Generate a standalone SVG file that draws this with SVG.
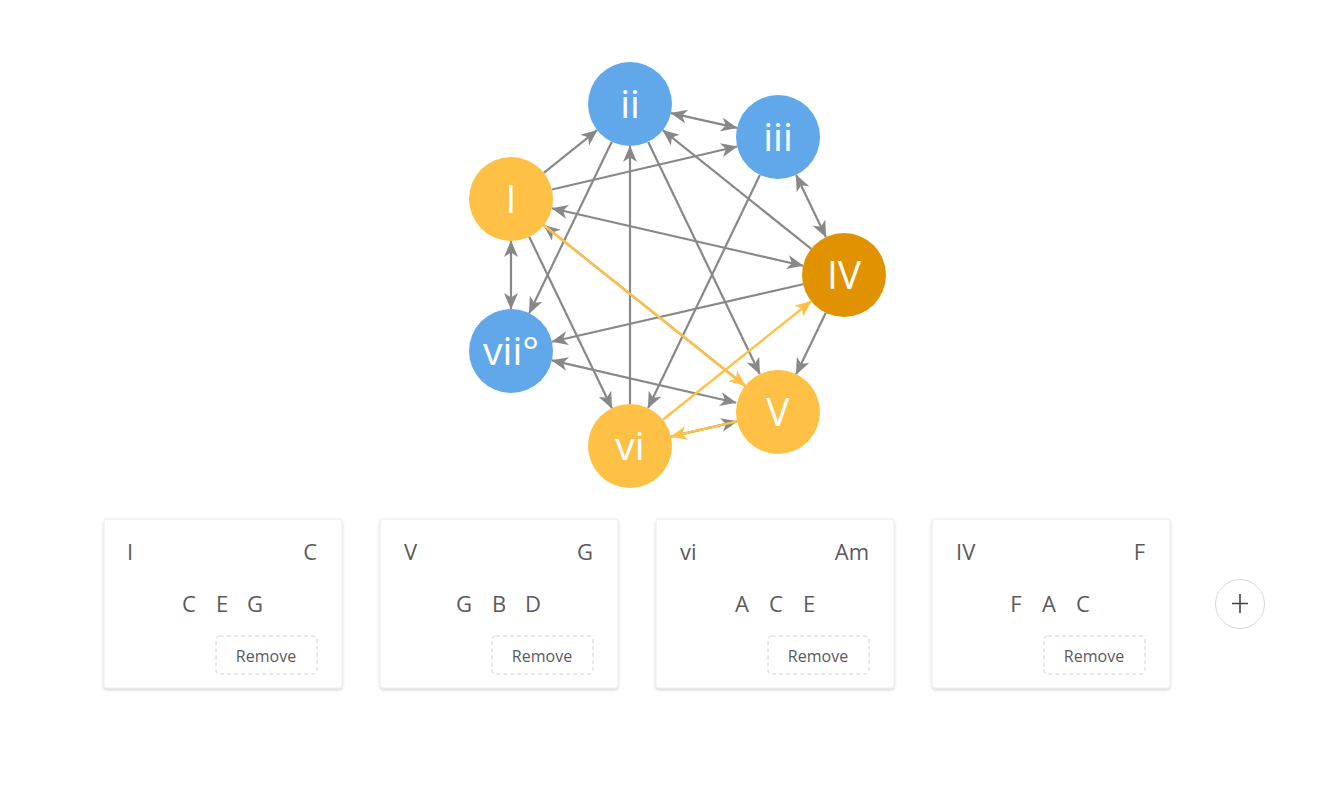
<svg xmlns="http://www.w3.org/2000/svg" width="1339" height="796" viewBox="0 0 1339 796">
<style>
.node text{font-family:"Open Sans","Noto Sans","DejaVu Sans",sans-serif;font-size:39px;fill:#fff;text-anchor:middle}
.blue{fill:#61a8ea}
.yel{fill:#ffc145}
.org{fill:#e09200}
.e{stroke:#888;stroke-width:2.2;fill:none}
.g{marker-end:url(#ag)}
.gg{marker-start:url(#ag);marker-end:url(#ag)}
.y{stroke:#ffc145;stroke-width:2.4;fill:none;marker-end:url(#ay)}
.card rect.bg{fill:#fff;stroke:#ececec;stroke-width:1}
.card text{font-family:"Open Sans","Noto Sans","DejaVu Sans",sans-serif;fill:#5a5a5a}
.t{font-size:22px}
.n{font-size:22px;text-anchor:middle}
.btn{fill:#fff;stroke:#d0d0d0;stroke-dasharray:4 3;stroke-width:1}
.bt{font-size:16px;text-anchor:middle}
</style>
<defs>
<marker id="ag" markerWidth="17" markerHeight="14" refX="16" refY="7" orient="auto-start-reverse" markerUnits="userSpaceOnUse" viewBox="0 0 17 14">
<path d="M16.5,7 L0,0 L4.5,7 L0,14 Z" fill="#888"/>
</marker>
<marker id="ay" markerWidth="17" markerHeight="14" refX="16" refY="7" orient="auto-start-reverse" markerUnits="userSpaceOnUse" viewBox="0 0 17 14">
<path d="M16.5,7 L0,0 L4.5,7 L0,14 Z" fill="#ffc145"/>
</marker>
<filter id="sh" x="-10%" y="-10%" width="120%" height="125%">
<feDropShadow dx="0" dy="1.5" stdDeviation="1.5" flood-color="#000" flood-opacity="0.18"/>
</filter>
</defs>
<rect width="1339" height="796" fill="#fff"/>
<g id="connectors">
<line class="e g" x1="543.8" y1="172.8" x2="597.2" y2="130.2"/>
<line class="e g" x1="551.9" y1="189.5" x2="737.1" y2="146.5"/>
<line class="e gg" x1="671" y1="113.1" x2="737" y2="127.9"/>
<line class="e gg" x1="551.9" y1="208.3" x2="803.1" y2="265.7"/>
<line class="e g" x1="811.2" y1="248.8" x2="662.8" y2="130.2"/>
<line class="e gg" x1="796.1" y1="174.9" x2="825.9" y2="237.1"/>
<line class="e g" x1="648.2" y1="141.9" x2="759.8" y2="374.1"/>
<line class="e g" x1="611.8" y1="141.8" x2="529.2" y2="313.2"/>
<line class="e g" x1="630" y1="404" x2="630" y2="146"/>
<line class="e g" x1="529.2" y1="236.8" x2="611.8" y2="408.2"/>
<line class="e gg" x1="511" y1="241" x2="511" y2="309"/>
<line class="e g" x1="759.9" y1="174.9" x2="648.1" y2="408.1"/>
<line class="e g" x1="803.1" y1="284.3" x2="551.9" y2="341.7"/>
<line class="e gg" x1="551.9" y1="360.4" x2="736.1" y2="402.7"/>
<line class="e g" x1="825.8" y1="312.8" x2="796.2" y2="374.2"/>
<line class="e g" x1="745.2" y1="385.8" x2="543.8" y2="225.2"/>
<line class="e g" x1="670.9" y1="436.6" x2="737.1" y2="421.4"/>
<line class="y" x1="543.8" y1="225.2" x2="745.2" y2="385.8"/>
<line class="y" x1="737.1" y1="421.4" x2="670.9" y2="436.6"/>
<line class="y" x1="662.8" y1="419.8" x2="811.2" y2="301.2"/>
</g>
<g id="node-I" class="node"><circle cx="511" cy="199" r="42" class="yel"/><text x="511" y="213">I</text></g>
<g id="node-ii" class="node"><circle cx="630" cy="104" r="42" class="blue"/><text x="630" y="118">ii</text></g>
<g id="node-iii" class="node"><circle cx="778" cy="137" r="42" class="blue"/><text x="778" y="151">iii</text></g>
<g id="node-IV" class="node"><circle cx="844" cy="275" r="42" class="org"/><text x="844" y="289">IV</text></g>
<g id="node-V" class="node"><circle cx="778" cy="412" r="42" class="yel"/><text x="778" y="426">V</text></g>
<g id="node-vi" class="node"><circle cx="630" cy="446" r="42" class="yel"/><text x="630" y="460">vi</text></g>
<g id="node-vii" class="node"><circle cx="511" cy="351" r="42" class="blue"/><text x="511" y="365">vii°</text></g>

<g id="card-1" class="card">
<rect class="bg" x="104" y="519" width="238" height="169" rx="3" filter="url(#sh)"/>
<text class="t" x="127" y="560">I</text>
<text class="t" x="317" y="560" text-anchor="end">C</text>
<text class="n" x="189" y="612">C</text><text class="n" x="222" y="612">E</text><text class="n" x="255" y="612">G</text>
<rect class="btn" x="216" y="636" width="101" height="38" rx="4"/>
<text class="bt" x="266" y="662">Remove</text>
</g>
<g id="card-2" class="card">
<rect class="bg" x="380" y="519" width="238" height="169" rx="3" filter="url(#sh)"/>
<text class="t" x="404" y="560">V</text>
<text class="t" x="593" y="560" text-anchor="end">G</text>
<text class="n" x="464" y="612">G</text><text class="n" x="499" y="612">B</text><text class="n" x="533" y="612">D</text>
<rect class="btn" x="492" y="636" width="101" height="38" rx="4"/>
<text class="bt" x="542" y="662">Remove</text>
</g>
<g id="card-3" class="card">
<rect class="bg" x="656" y="519" width="238" height="169" rx="3" filter="url(#sh)"/>
<text class="t" x="680" y="560">vi</text>
<text class="t" x="869" y="560" text-anchor="end">Am</text>
<text class="n" x="742" y="612">A</text><text class="n" x="776" y="612">C</text><text class="n" x="809" y="612">E</text>
<rect class="btn" x="768" y="636" width="101" height="38" rx="4"/>
<text class="bt" x="818" y="662">Remove</text>
</g>
<g id="card-4" class="card">
<rect class="bg" x="932" y="519" width="238" height="169" rx="3" filter="url(#sh)"/>
<text class="t" x="956" y="560">IV</text>
<text class="t" x="1145" y="560" text-anchor="end">F</text>
<text class="n" x="1016" y="612">F</text><text class="n" x="1049" y="612">A</text><text class="n" x="1083" y="612">C</text>
<rect class="btn" x="1044" y="636" width="101" height="38" rx="4"/>
<text class="bt" x="1094" y="662">Remove</text>
</g>
<g id="add-button">
<circle cx="1240" cy="604" r="24.5" fill="#fff" stroke="#d9d9d9" stroke-width="1"/>
<path d="M1232,603.5 H1248 M1240,594 V613" stroke="#444" stroke-width="1.6" fill="none"/>
</g>
</svg>
